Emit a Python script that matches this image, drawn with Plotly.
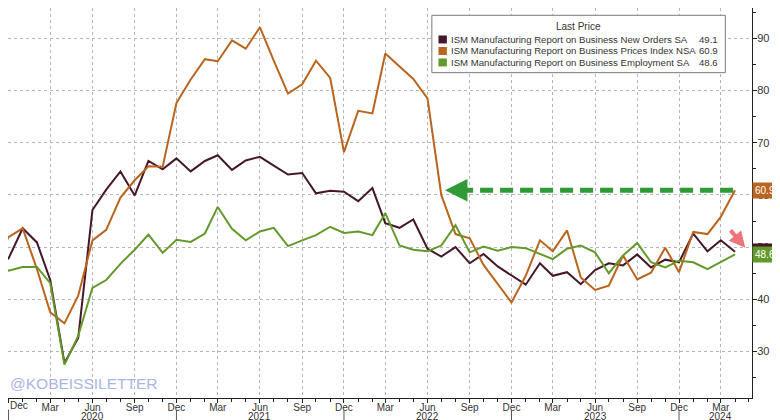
import pandas as pd
import plotly.graph_objects as go

# ISM manufacturing sub-indices, monthly, Nov 2019 .. Apr 2024
new_orders = [47.8, 47.8, 53.6, 50.9, 43.7, 27.8, 32.6, 57.1, 61.0, 64.5, 59.9, 66.5, 64.9,
              67.0, 64.5, 66.5, 67.6, 64.8, 66.6, 67.3, 65.6, 63.9, 64.2, 60.3, 60.8,
              60.6, 58.8, 61.3, 54.6, 53.7, 55.3, 49.7, 48.2, 50.0, 46.9, 48.7, 46.3,
              44.5, 42.8, 46.9, 44.5, 45.2, 42.9, 45.6, 46.9, 46.5, 48.6, 46.1, 47.6,
              47.1, 52.6, 49.2, 51.3, 49.1]
prices = [46.9, 51.9, 53.6, 45.8, 37.5, 35.4, 40.7, 51.3, 53.3, 59.5, 62.8, 65.5, 65.4,
          77.6, 82.1, 86.0, 85.6, 89.6, 88.0, 92.1, 85.7, 79.4, 81.2, 85.7, 82.4,
          68.2, 76.1, 75.6, 87.1, 84.6, 82.2, 78.5, 60.0, 52.5, 51.7, 46.6, 43.0,
          39.4, 44.5, 51.3, 49.2, 53.2, 44.2, 41.8, 42.6, 48.4, 43.8, 45.1, 49.9,
          45.2, 52.9, 52.5, 55.8, 60.9]
employment = [46.7, 45.5, 46.2, 46.2, 43.1, 27.5, 33.0, 42.2, 43.7, 46.8, 49.5, 52.4, 48.9,
              51.4, 51.0, 52.6, 57.7, 53.5, 51.3, 53.0, 53.7, 50.2, 51.3, 52.3, 53.9,
              52.7, 53.0, 52.3, 56.5, 50.3, 49.5, 49.2, 50.3, 54.2, 49.0, 50.1, 49.3,
              50.0, 49.8, 48.7, 47.7, 49.7, 50.3, 49.0, 45.0, 48.4, 50.8, 47.1, 46.1,
              47.4, 47.1, 45.8, 47.2, 48.6]

months = pd.date_range("2019-11-01", periods=len(prices), freq="MS")

names = ["ISM Manufacturing Report on Business New Orders SA",
         "ISM Manufacturing Report on Business Prices Index NSA",
         "ISM Manufacturing Report on Business Employment SA"]
colors = ["#45172a", "#b9651f", "#62992a"]
series = [new_orders, prices, employment]

tick_dates = ["2019-12-01", "2020-03-01", "2020-06-01", "2020-09-01", "2020-12-01",
              "2021-03-01", "2021-06-01", "2021-09-01", "2021-12-01", "2022-03-01",
              "2022-06-01", "2022-09-01", "2022-12-01", "2023-03-01", "2023-06-01",
              "2023-09-01", "2023-12-01", "2024-03-01"]
tick_text = ["Dec", "Mar", "Jun", "Sep"] * 4 + ["Dec", "Mar"]
year_dates = ["2020-06-01", "2021-06-01", "2022-06-01", "2023-06-01", "2024-03-01"]
year_text = ["2020", "2021", "2022", "2023", "2024"]
sep_dates = ["2019-12-01", "2020-12-01", "2021-12-01", "2022-12-01", "2023-12-01"]

FONT = "Liberation Sans"

fig = go.Figure()
for name, ys, col in zip(names, series, colors):
    fig.add_trace(go.Scatter(x=months, y=ys, mode="lines", name=name,
                             line=dict(color=col, width=2), showlegend=False))

# green dashed arrow back to the mid-2022 level
last_x = months[-1]
last_price = prices[-1]
fig.add_shape(type="line", xref="x", yref="y", x0="2022-08-11", x1=last_x,
              y0=last_price, y1=last_price,
              line=dict(color="#2f9a36", width=5, dash="13px,7px"))
fig.add_annotation(x="2022-07-09", y=last_price, xref="x", yref="y", text="",
                   showarrow=True, ax=22, ay=0, arrowhead=2, arrowsize=0.9,
                   arrowwidth=5, arrowcolor="#2f9a36")

# red pointer to the new orders tag
fig.add_annotation(x=0.991, y=0.385, xref="paper", yref="paper", text="",
                   showarrow=True, ax=-16, ay=-19, arrowhead=2, arrowsize=0.8,
                   arrowwidth=4, arrowcolor="rgba(232,70,80,0.75)")

# last-value tags on the right axis (new orders tag sits behind the employment one)
for ys, col in zip(series, colors):
    fig.add_annotation(x=1, y=ys[-1], xref="paper", yref="y", text=f"{ys[-1]:.1f}",
                       showarrow=False, xanchor="left", yanchor="middle",
                       bgcolor=col, borderpad=2,
                       font=dict(family=FONT, size=10, color="white"))

# custom legend box
fig.add_shape(type="rect", xref="paper", yref="paper", x0=0.5697, x1=0.9641,
              y0=0.8342, y1=0.9813, line=dict(color="#7a7a7a", width=1), fillcolor="white")
fig.add_annotation(x=0.7664, y=0.9513, xref="paper", yref="paper", text="Last Price",
                   showarrow=False, xanchor="center", yanchor="middle",
                   font=dict(family=FONT, size=10, color="#333"))
row_y = [0.9193, 0.8898, 0.8604]
for name, ys, col, ry in zip(names, series, colors, row_y):
    fig.add_shape(type="rect", xref="paper", yref="paper", x0=0.5786, x1=0.5899,
                  y0=ry - 0.0102, y1=ry + 0.0102, line=dict(width=0), fillcolor=col)
    fig.add_annotation(x=0.5934, y=ry, xref="paper", yref="paper", text=name,
                       showarrow=False, xanchor="left", yanchor="middle",
                       font=dict(family=FONT, size=9.6, color="#333"))
    fig.add_annotation(x=0.9574, y=ry, xref="paper", yref="paper", text=f"{ys[-1]:.1f}",
                       showarrow=False, xanchor="right", yanchor="middle",
                       font=dict(family=FONT, size=9.6, color="#333"))

# first month label sits on the left edge, year row and separators below
fig.add_annotation(x=0, y=-0.0197, xref="paper", yref="paper", text="Dec", showarrow=False,
                   xanchor="left", yanchor="middle",
                   font=dict(family=FONT, size=10, color="#333"))
for d, t in zip(year_dates, year_text):
    fig.add_annotation(x=d, y=-0.048, xref="x", yref="paper", text=t, showarrow=False,
                       xanchor="center", yanchor="middle",
                       font=dict(family=FONT, size=10, color="#333"))
for d in sep_dates:
    fig.add_shape(type="line", xref="x", yref="paper", x0=d, x1=d, y0=-0.03, y1=-0.06,
                  line=dict(color="#555", width=1))

fig.add_annotation(x=0, y=0.0366, xref="paper", yref="paper", text="@KOBEISSILETTER",
                   showarrow=False, xanchor="left", yanchor="middle",
                   font=dict(family=FONT, size=15.5, color="#a9b5e3"))

fig.update_layout(
    width=772, height=412,
    margin=dict(l=0, r=28, t=0, b=22),
    paper_bgcolor="white", plot_bgcolor="white",
    font=dict(family=FONT, size=10, color="#333"),
    xaxis=dict(range=["2019-11-30", "2024-05-08"], tickvals=tick_dates, ticktext=tick_text,
               showgrid=True, gridcolor="#b5b5b5", griddash="dot", gridwidth=1,
               showline=True, linecolor="#222", linewidth=1,
               ticks="outside", ticklen=4, tickcolor="#222", ticklabelstandoff=-4,
               minor=dict(dtick="M1", ticks="outside", ticklen=3, tickcolor="#222", showgrid=False),
               tickfont=dict(family=FONT, size=10, color="#333"), automargin=False,
               zeroline=False),
    yaxis=dict(range=[21.1, 95.8], side="right", dtick=10, tick0=0,
               showgrid=True, gridcolor="#b5b5b5", griddash="dot", gridwidth=1,
               showline=True, linecolor="#222", linewidth=1,
               ticks="outside", ticklen=4, tickcolor="#222", ticklabelstandoff=-2,
               minor=dict(dtick=5, ticks="outside", ticklen=3, tickcolor="#222", showgrid=False),
               tickfont=dict(family=FONT, size=11, color="#333"), automargin=False,
               zeroline=False),
)

fig.write_html("out.html")
